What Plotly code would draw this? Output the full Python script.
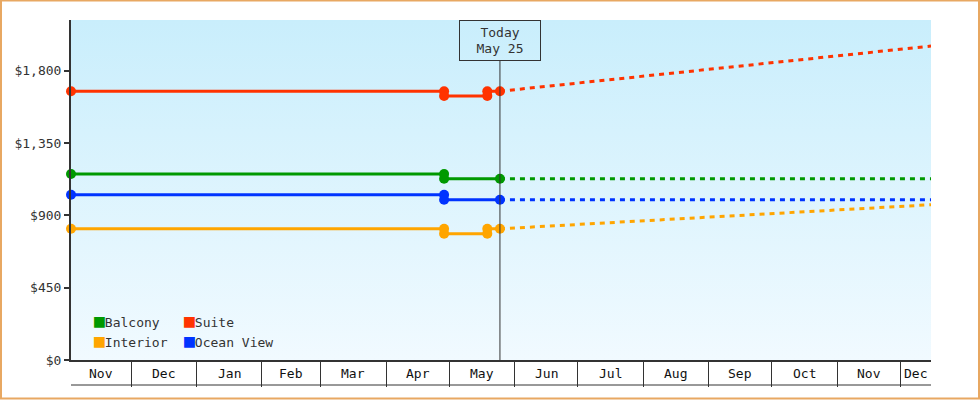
import pandas as pd
import plotly.graph_objects as go

# --- data ---
x_start = "2024-11-02 12:00"
x_end = "2025-12-15 12:00"
today = "2025-05-25"

# price history (steps drawn with repeated dates)
hist_dates_4 = ["2024-11-02 12:00", "2025-04-28 12:00", "2025-04-28 12:00", "2025-05-25"]
hist_dates_6 = ["2024-11-02 12:00", "2025-04-28 12:00", "2025-04-28 12:00",
                "2025-05-19", "2025-05-19", "2025-05-25"]
suite_hist = [1672, 1672, 1643, 1643, 1672, 1672]
balcony_hist = [1157, 1157, 1128, 1128]
ocean_hist = [1028, 1028, 997, 997]
interior_hist = [816, 816, 786, 786, 816, 816]

# forecast
fc_dates = ["2025-05-25", "2025-06-25", "2025-07-25", "2025-08-25", "2025-09-25",
            "2025-10-25", "2025-11-25", "2025-12-15 12:00"]
suite_fc = [1672, 1714, 1756, 1799, 1840, 1881, 1924, 1953]
balcony_fc = [1128, 1128, 1128, 1128, 1128, 1128, 1128, 1128]
ocean_fc = [997, 997, 997, 997, 997, 997, 997, 997]
interior_fc = [816, 839, 861, 884, 906, 928, 951, 966]

y_ticks = [0, 450, 900, 1350, 1800]
y_labels = ["$0", "$450", "$900", "$1,350", "$1,800"]
month_names = ["Nov", "Dec", "Jan", "Feb", "Mar", "Apr", "May",
               "Jun", "Jul", "Aug", "Sep", "Oct", "Nov", "Dec"]
legend_rows = [["Balcony", "Suite"], ["Interior", "Ocean View"]]

FONT = "DejaVu Sans Mono"
INK = "#333333"
colors = {"Balcony": "#009900", "Suite": "#ff3300",
          "Interior": "#ffa500", "Ocean View": "#0033ff"}

fig = go.Figure()

# background panel with vertical gradient
fig.add_trace(go.Scatter(
    x=[x_start, x_end, x_end, x_start, x_start], y=[0, 0, 2115, 2115, 0],
    mode="lines", fill="toself", line=dict(width=0),
    fillgradient=dict(type="vertical", colorscale=[[0, "#f1faff"], [1, "#c9eefc"]]),
    hoverinfo="skip", showlegend=False))

series = [
    ("Suite", hist_dates_6, suite_hist, suite_fc),
    ("Balcony", hist_dates_4, balcony_hist, balcony_fc),
    ("Ocean View", hist_dates_4, ocean_hist, ocean_fc),
    ("Interior", hist_dates_6, interior_hist, interior_fc),
]
for name, dates, hist, fc in series:
    c = colors[name]
    fig.add_trace(go.Scatter(x=fc_dates, y=fc, mode="lines",
                             line=dict(color=c, width=3, dash="5px,5px"),
                             showlegend=False, hoverinfo="skip"))
    fig.add_trace(go.Scatter(x=dates, y=hist, mode="lines+markers",
                             line=dict(color=c, width=3),
                             marker=dict(color=c, size=10, symbol="circle"),
                             cliponaxis=False, name=name, showlegend=False))

annotations = []

# legend, two columns, drawn as swatch + label
for r, row in enumerate(legend_rows):
    for col, name in enumerate(row):
        annotations.append(dict(
            x=0.0245 + col * 0.1047, xref="paper", xanchor="left",
            y=0.1176 - r * 0.0588, yref="paper", yanchor="middle",
            text=f'<span style="color:{colors[name]};font-size:18px">■</span>{name}',
            showarrow=False, font=dict(family=FONT, size=13, color=INK)))

# month band under the x axis
months = pd.date_range("2024-11-01", periods=len(month_names) + 1, freq="MS")
lo_lim, hi_lim = pd.Timestamp(x_start), pd.Timestamp(x_end)
for i, label in enumerate(month_names):
    lo = max(months[i], lo_lim)
    hi = min(months[i + 1], hi_lim)
    mid = lo + (hi - lo) / 2
    annotations.append(dict(x=mid, xref="x", y=0, yref="paper", yshift=-13,
                            text=label, showarrow=False, yanchor="middle",
                            font=dict(family=FONT, size=13, color="#111")))

annotations.append(dict(x=today, xref="x", y=1, yref="paper", yanchor="top",
                        text="Today<br>May 25", showarrow=False, align="center",
                        width=78, height=37, borderpad=1,
                        bordercolor=INK, borderwidth=1,
                        font=dict(family=FONT, size=13, color=INK)))

shapes = [
    dict(type="line", xref="x", x0=today, x1=today, yref="paper",
         ysizemode="pixel", yanchor=0, y0=0, y1=299,
         line=dict(color=INK, width=1)),
    dict(type="line", xref="x", x0=x_start, x1=x_end, yref="paper",
         ysizemode="pixel", yanchor=0, y0=-25, y1=-25,
         line=dict(color=INK, width=1)),
    dict(type="rect", xref="paper", xsizemode="pixel", xanchor=0, x0=-70, x1=908,
         yref="paper", ysizemode="pixel", yanchor=0, y0=-38.5, y1=359.5,
         line=dict(color="#e8a862", width=2)),
]

fig.update_layout(
    width=980, height=400,
    margin=dict(l=71, r=49, t=20, b=40),
    paper_bgcolor="white", plot_bgcolor="white",
    font=dict(family=FONT, size=13, color=INK),
    annotations=annotations, shapes=shapes,
    hovermode="closest", showlegend=False,
    xaxis=dict(type="date", range=[x_start, x_end], showgrid=False, zeroline=False,
               showline=True, linecolor=INK, linewidth=1.5,
               tickmode="array", tickvals=list(months[1:-1]),
               ticks="outside", ticklen=25, tickwidth=1, tickcolor=INK,
               showticklabels=False),
    yaxis=dict(range=[0, 2115], showgrid=False, zeroline=False,
               showline=True, linecolor=INK, linewidth=2,
               tickmode="array", tickvals=y_ticks, ticktext=y_labels,
               ticks="outside", ticklen=5, tickwidth=2, tickcolor=INK,
               tickfont=dict(family=FONT, size=13, color=INK)),
)

fig.write_html("out.html", config={"displayModeBar": False},
               post_script="document.body.style.margin='0';")
